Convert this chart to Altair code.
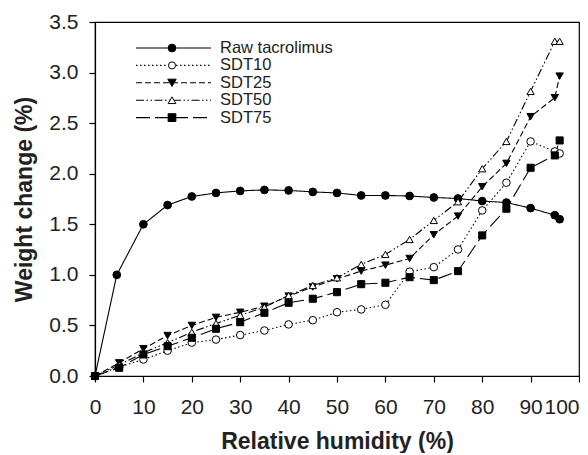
import altair as alt
import pandas as pd

series_names = ["Raw tacrolimus", "SDT10", "SDT25", "SDT50", "SDT75"]

rh_raw = [0, 4.5, 10, 15, 20, 25, 30, 35, 40, 45, 50, 55, 60, 65, 70, 75, 80, 85, 90, 95, 96]
rh_sdt = [0, 5, 10, 15, 20, 25, 30, 35, 40, 45, 50, 55, 60, 65, 70, 75, 80, 85, 90, 95, 96]

raw = [0, 1.00, 1.50, 1.69, 1.775, 1.81, 1.83, 1.84, 1.835, 1.82, 1.81, 1.785, 1.785,
       1.78, 1.765, 1.755, 1.73, 1.715, 1.66, 1.59, 1.55]
sdt10 = [0, 0.09, 0.163, 0.25, 0.33, 0.36, 0.405, 0.45, 0.51, 0.552, 0.631, 0.658, 0.704,
         1.031, 1.076, 1.251, 1.637, 1.911, 2.319, 2.22, 2.20]
sdt25 = [0, 0.13, 0.27, 0.40, 0.50, 0.58, 0.63, 0.69, 0.79, 0.88, 0.961, 1.037, 1.096,
         1.162, 1.397, 1.581, 1.871, 2.102, 2.564, 2.752, 2.965]
sdt50 = [0, 0.11, 0.23, 0.33, 0.433, 0.52, 0.60, 0.68, 0.796, 0.895, 0.971, 1.103, 1.202,
         1.35, 1.538, 1.723, 2.049, 2.319, 2.814, 3.309, 3.309]
sdt75 = [0, 0.081, 0.213, 0.295, 0.378, 0.467, 0.532, 0.625, 0.724, 0.764, 0.829, 0.908,
         0.922, 0.977, 0.948, 1.037, 1.39, 1.654, 2.059, 2.181, 2.329]

x_ticks = [0, 10, 20, 30, 40, 50, 60, 70, 80, 90, 100]
y_ticks = [0.0, 0.5, 1.0, 1.5, 2.0, 2.5, 3.0, 3.5]

dashes = [[1, 0], [1.5, 2.5], [6, 3], [8, 2.5, 1.5, 2.5, 1.5, 2.5], [14, 5]]
shapes = ["circle", "circle", "triangle-down", "triangle-up", "square"]
fills = ["black", "white", "black", "white", "black"]
sizes = [60, 50, 70, 60, 60]

rows = []
for name, xs, ys in zip(series_names, [rh_raw, rh_sdt, rh_sdt, rh_sdt, rh_sdt],
                        [raw, sdt10, sdt25, sdt50, sdt75]):
    for xv, yv in zip(xs, ys):
        rows.append({"series": name, "rh": xv, "wc": yv})
df = pd.DataFrame(rows)

FONT = "Liberation Sans"
W, H = 484, 354

xenc = alt.X("rh:Q", scale=alt.Scale(domain=[0, 100], nice=False),
             axis=alt.Axis(values=x_ticks, title="Relative humidity (%)", grid=False,
                           tickSize=6, labelPadding=14, labelFontSize=21,
                           labelAlign=alt.condition("datum.value == 100", alt.value("right"), alt.value("center")),
                           titleFontSize=23, titleFontWeight="bold",
                           titleX=W / 2, titleY=72, titleBaseline="alphabetic", titleAnchor="middle"))
yenc = alt.Y("wc:Q", scale=alt.Scale(domain=[0, 3.5], nice=False),
             axis=alt.Axis(values=y_ticks, format=".1f", title="Weight change (%)", grid=False,
                           tickSize=6, labelPadding=11, labelFontSize=21,
                           titleFontSize=23, titleFontWeight="bold",
                           titleX=-64, titleY=H / 2, titleAngle=-90, titleAlign="center",
                           titleBaseline="alphabetic"))

dash_scale = alt.Scale(domain=series_names, range=dashes)

lines = alt.Chart(df).mark_line(color="black", strokeWidth=1.1).encode(
    x=xenc, y=yenc,
    strokeDash=alt.StrokeDash("series:N", scale=dash_scale, legend=None),
    detail="series:N",
)

points = alt.Chart(df).mark_point(filled=True, stroke="black", strokeWidth=1, opacity=1).encode(
    x="rh:Q", y="wc:Q",
    shape=alt.Shape("series:N", scale=alt.Scale(domain=series_names, range=shapes), legend=None),
    fill=alt.Fill("series:N", scale=alt.Scale(domain=series_names, range=fills), legend=None),
    size=alt.Size("series:N", scale=alt.Scale(domain=series_names, range=sizes), legend=None),
)

layers = [lines, points]
one = pd.DataFrame({"k": [0]})
for i, name in enumerate(series_names):
    ly = 26 + 17.4 * i
    layers.append(alt.Chart(one).mark_rule(color="black", strokeWidth=1.1, strokeDash=dashes[i]).encode(
        x=alt.value(41), x2=alt.value(116), y=alt.value(ly)))
    layers.append(alt.Chart(one).mark_point(filled=True, shape=shapes[i], fill=fills[i], stroke="black",
                                            strokeWidth=1, opacity=1, size=sizes[i]).encode(
        x=alt.value(77), y=alt.value(ly)))
    layers.append(alt.Chart(one).mark_text(text=name, align="left", baseline="middle", fontSize=16.5,
                                           font=FONT, color="#222").encode(
        x=alt.value(125), y=alt.value(ly)))

chart = alt.layer(*layers).properties(
    width=W, height=H,
    autosize=alt.AutoSizeParams(type="none"),
    padding={"left": 87, "top": 14, "right": 1, "bottom": 77},
    background="white",
).configure_view(stroke="black", strokeWidth=1.2).configure_axis(
    domainColor="black", tickColor="black", labelColor="#222", titleColor="#222",
    labelFont=FONT, titleFont=FONT, domainWidth=1.2, tickWidth=1.2,
)

chart.save("out.html", embed_options={"renderer": "svg", "actions": False})
